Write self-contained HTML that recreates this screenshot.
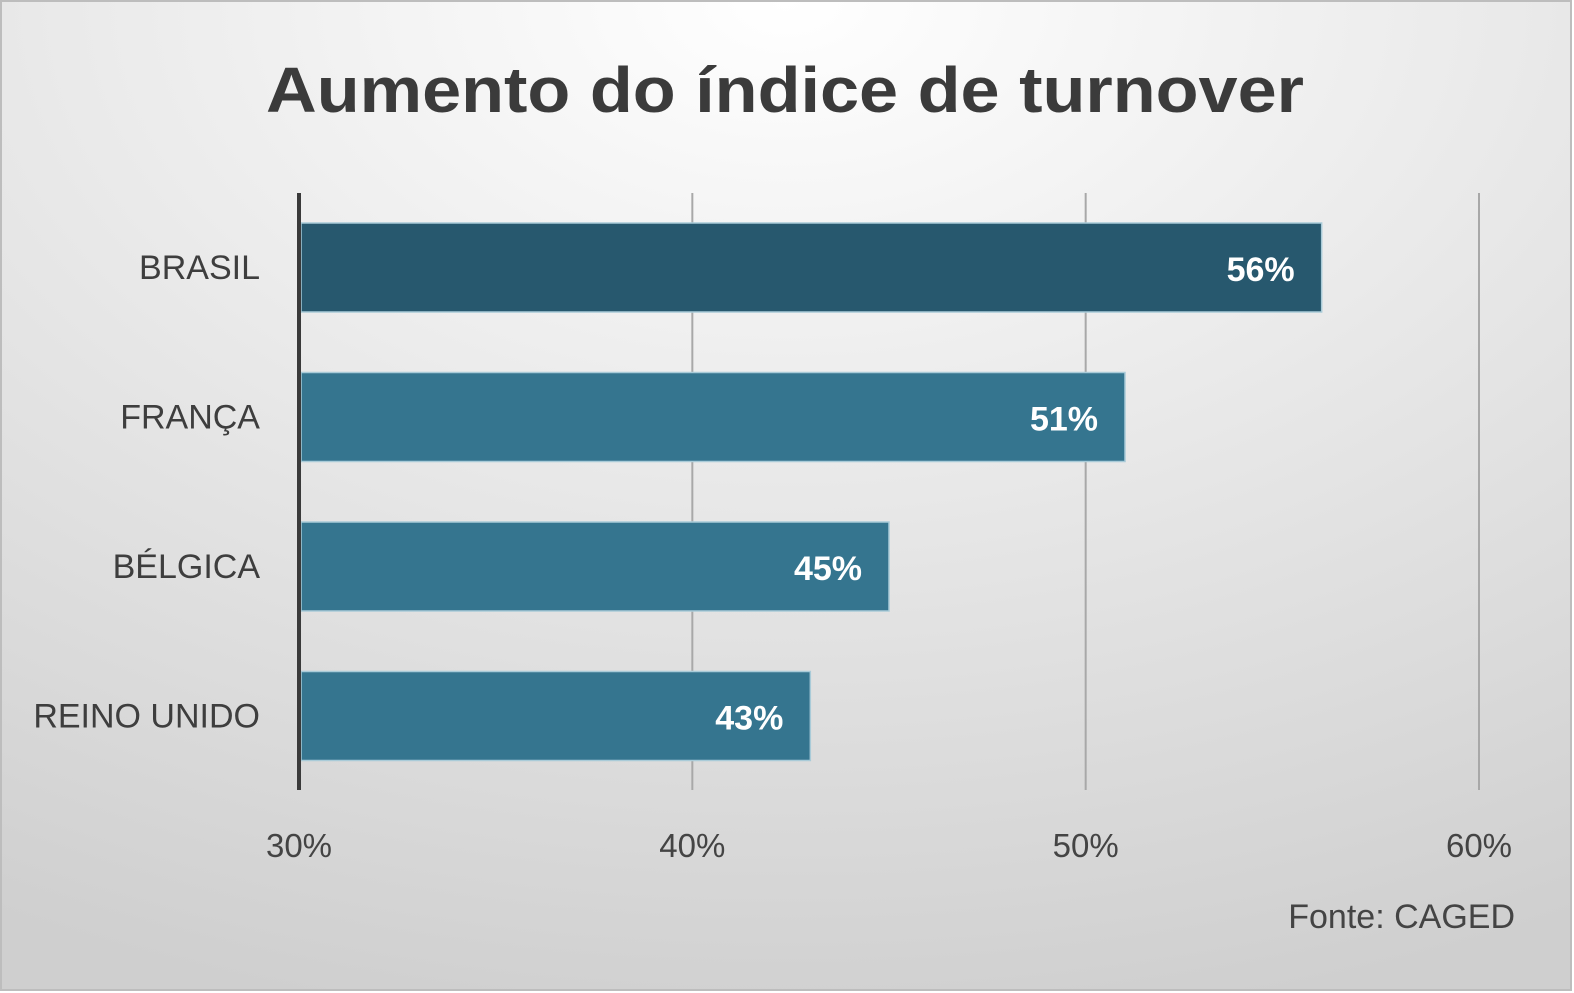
<!DOCTYPE html>
<html><head><meta charset="utf-8"><style>
html,body{margin:0;padding:0}
body{width:1574px;height:993px;overflow:hidden}
svg{display:block}
</style></head><body>
<svg id="chart" width="1574" height="993" xmlns="http://www.w3.org/2000/svg">
<defs>
<radialGradient id="bg" cx="0.5" cy="0" r="1.05" gradientUnits="objectBoundingBox">
<stop offset="0" stop-color="#ffffff"/><stop offset="1" stop-color="#cfcfcf"/>
</radialGradient>
</defs>
<rect x="1" y="1" width="1570" height="989" fill="url(#bg)" stroke="#bdbdbd" stroke-width="2"/>
<text x="785" y="112" text-anchor="middle" font-family="'Liberation Sans Narrow','Liberation Sans',sans-serif" font-weight="bold" font-size="64" fill="#3b3b3b" textLength="1038" lengthAdjust="spacingAndGlyphs">Aumento do índice de turnover</text>
<g id="grid"></g>
<g id="bars"></g>
<line x1="299" y1="193" x2="299" y2="790" stroke="#3a3a3a" stroke-width="4"/>
<text x="1515" y="928" text-anchor="end" font-family="'Liberation Sans Narrow','Liberation Sans',sans-serif" font-size="34" fill="#444">Fonte: CAGED</text>
</svg>
<script>
const categories = ["BRASIL","FRANÇA","BÉLGICA","REINO UNIDO"];
const values = [56,51,45,43];
const valueLabels = ["56%","51%","45%","43%"];
const ticks = [30,40,50,60];
const tickLabels = ["30%","40%","50%","60%"];
const NS="http://www.w3.org/2000/svg";
const x = v => 299 + (v-30)*(1479-299)/30;
const band = 149.5, top0 = 193;
const y = i => top0 + i*band;
const grid=document.getElementById('grid'), bars=document.getElementById('bars');
function mk(tag,attrs,parent){const e=document.createElementNS(NS,tag);for(const k in attrs)e.setAttribute(k,attrs[k]);parent.appendChild(e);return e;}
ticks.forEach((t,i)=>{
  if(i>0){const l=mk('line',{x1:x(t),y1:193,x2:x(t),y2:790,stroke:'#a8a8a8','stroke-width':2},grid);
  
  }
  const tx=mk('text',{x:x(t),y:857,'text-anchor':'middle','font-family':"'Liberation Sans Narrow','Liberation Sans',sans-serif",'font-size':33,fill:'#444'},grid);
  tx.textContent=tickLabels[i];
  
  
});
categories.forEach((c,i)=>{
  const by=y(i)+30;
  const r=mk('rect',{x:301,y:by,width:x(values[i])-301,height:89,fill:i===0?'#27586e':'#35758f',stroke:'#a9cbd8','stroke-width':1.5},bars);
  
  
  const cl=mk('text',{x:260,y:by+56,'text-anchor':'end','font-family':"'Liberation Sans Narrow','Liberation Sans',sans-serif",'font-size':34,fill:'#3e3e3e'},bars);
  cl.textContent=c;
  
  
  const vl=mk('text',{x:x(values[i])-27,y:by+58,'text-anchor':'end','font-family':"'Liberation Sans',sans-serif",'font-weight':'bold','font-size':34,fill:'#ffffff'},bars);
  vl.textContent=valueLabels[i];
  
  
});
</script>
</body></html>
